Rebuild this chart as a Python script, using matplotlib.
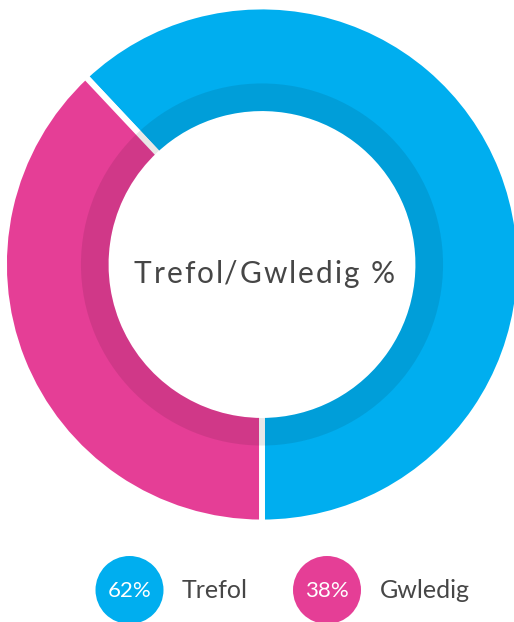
import matplotlib
matplotlib.use("Agg")
import matplotlib.pyplot as plt
from matplotlib.patches import Wedge, Circle
from matplotlib.font_manager import findfont, FontProperties
from matplotlib.ft2font import FT2Font

labels = ['Trefol', 'Gwledig']
values = [62, 38]
colors = ['#00AEEF', '#E53E96']
title = 'Trefol/Gwledig %'

plt.rcParams['font.family'] = ['Lato', 'DejaVu Sans']
txt_color = '#464646'

W, H = 514, 622
fig = plt.figure(figsize=(W / 100, H / 100), dpi=100)

# donut: centre (262, 264.5) px, outer radius 255 px
ax = fig.add_axes([7 / W, (H - 264.5 - 255) / H, 510 / W, 510 / H])
r_in = 0.602
r_band = 0.71
pad = 0.012  # white edge eats half the stroke
ax.pie(values, colors=colors, startangle=-90, counterclock=True,
       radius=1 + pad,
       wedgeprops=dict(width=1 + pad - (r_in - pad), edgecolor='white', linewidth=4.3))
ax.add_patch(Wedge((0, 0), r_band, 0, 360, width=r_band - r_in,
                   facecolor='black', alpha=0.09, linewidth=0, zorder=5))
ax.set_xlim(-1, 1)
ax.set_ylim(-1, 1)
ax.axis('off')

# overlay in pixel space for title + legend
lg = fig.add_axes([0, 0, 1, 1])
lg.set_xlim(0, W)
lg.set_ylim(H, 0)
lg.axis('off')
lg.patch.set_alpha(0)

# centre title, lightly letter-spaced
t_size = 21.5
font = FT2Font(findfont(FontProperties(family='Lato')))
font.set_size(t_size, 100)
adv = [font.load_char(ord(c)).linearHoriAdvance / 65536 for c in title]
x0, x1 = 134, 392
track = ((x1 - x0) - sum(adv[:-1]) - adv[-1] * 0.9) / (len(title) - 1)
x = x0
for c, a in zip(title, adv):
    if c != ' ':
        lg.text(x, 283, c, ha='left', va='baseline', fontsize=t_size, color=txt_color)
    x += a + track

# legend
circle_x = [129.5, 327]
label_x = [182, 380]
cy = 590
for i in range(len(labels)):
    lg.add_patch(Circle((circle_x[i], cy), 34, facecolor=colors[i], linewidth=0))
    lg.text(circle_x[i], cy + 1, f'{values[i]}%', ha='center', va='center',
            fontsize=16, color='white')
    lg.text(label_x[i], cy + 1, labels[i], ha='left', va='center',
            fontsize=18, color=txt_color)

fig.savefig('out.png', dpi=100, facecolor='white')
